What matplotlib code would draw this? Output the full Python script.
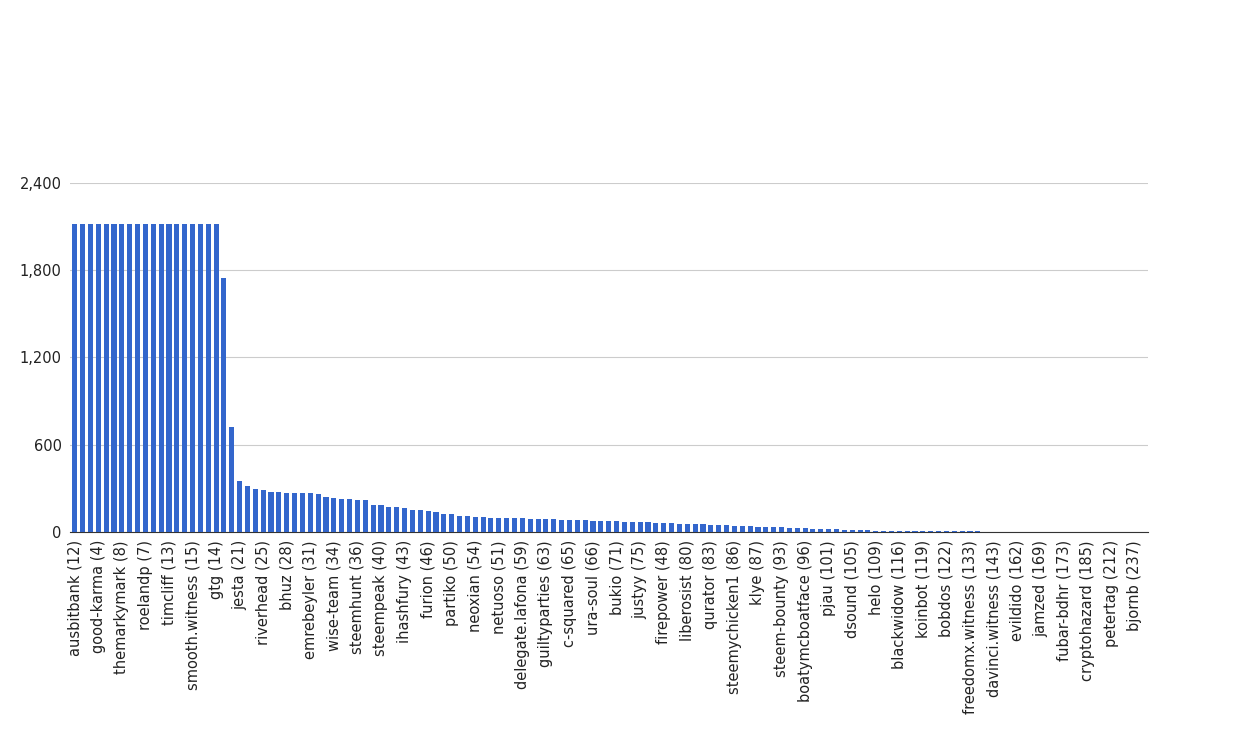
import matplotlib.pyplot as plt
import numpy as np

# Visible category labels (every third bar is labelled)
labels = ["ausbitbank (12)", "good-karma (4)", "themarkymark (8)", "roelandp (7)", "timcliff (13)",
          "smooth.witness (15)", "gtg (14)", "jesta (21)", "riverhead (25)", "bhuz (28)",
          "emrebeyler (31)", "wise-team (34)", "steemhunt (36)", "steempeak (40)", "ihashfury (43)",
          "furion (46)", "partiko (50)", "neoxian (54)", "netuoso (51)", "delegate.lafona (59)",
          "guiltyparties (63)", "c-squared (65)", "ura-soul (66)", "bukio (71)", "justyy (75)",
          "firepower (48)", "liberosist (80)", "qurator (83)", "steemychicken1 (86)", "klye (87)",
          "steem-bounty (93)", "boatymcboatface (96)", "pjau (101)", "dsound (105)", "helo (109)",
          "blackwidow (116)", "koinbot (119)", "bobdos (122)", "freedomx.witness (133)",
          "davinci.witness (143)", "evildido (162)", "jamzed (169)", "fubar-bdhr (173)",
          "cryptohazard (185)", "petertag (212)", "bjornb (237)"]

top_values = [2120] * 19 + [1747, 722]
mid_values = [351, 317, 296, 289, 275, 275, 268, 268, 268, 268, 261, 241, 234, 227, 227,
              220, 220, 186, 186, 172, 172, 165, 151, 151, 144, 138, 124, 124, 110, 110, 103]
tail_values = [100, 98, 96, 94, 92, 92, 90, 88, 86, 85, 84, 82, 80, 78, 76, 76, 74, 72, 70,
               68, 66, 64, 62, 60, 58, 56, 54, 52, 50, 48, 46, 44, 42, 40, 38, 36, 34, 32,
               30, 28, 26, 24, 22, 21, 19, 17, 15, 13, 11, 9, 7, 6, 5]
end_values = [4, 4, 3, 3, 3, 3, 2, 2, 2, 2, 2, 1, 1, 1, 1, 1, 1, 1, 1, 1, 0.5, 0.5, 0.5,
              0.5, 0.5, 0.5, 0.3, 0.3, 0.3, 0.3, 0.2, 0.2]
values = top_values + mid_values + tail_values + end_values

fig = plt.figure(figsize=(12.5, 7.5), dpi=100)
ax = fig.add_axes([0.056, 0.291, 0.862, 0.465])

x = np.arange(len(values))
ax.bar(x, values, width=0.65, color='#3366cc', zorder=3)

ax.set_xlim(-0.6, len(values) - 0.4)
ax.set_ylim(0, 2400)
ax.set_yticks([0, 600, 1200, 1800, 2400])
ax.set_yticklabels(["0", "600", "1,200", "1,800", "2,400"], fontsize=10.5, color='#222222')
ax.set_xticks(x[::3][:len(labels)])
ax.set_xticklabels(labels, rotation=90, fontsize=10.5, color='#222222')
ax.tick_params(length=0, pad=6)
ax.grid(axis='y', color='#cccccc', linewidth=0.8, zorder=0)
for s in ['top', 'right', 'left']:
    ax.spines[s].set_visible(False)
ax.spines['bottom'].set_color('#333333')

fig.savefig("out.png", dpi=100)
